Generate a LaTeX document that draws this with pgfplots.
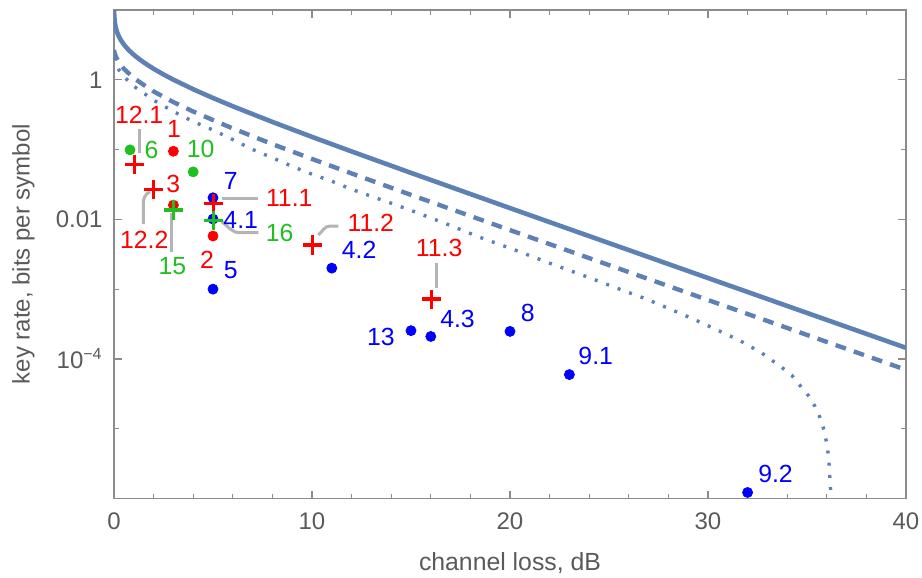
\documentclass[border=0pt]{standalone}
\usepackage{pgfplots}
\pgfplotsset{compat=1.18}
\usepackage{fontspec}
\setmainfont{Liberation Sans}
\definecolor{curve}{HTML}{5E81B5}
\definecolor{mred}{HTML}{FF0000}
\definecolor{mgreen}{HTML}{1FBF1F}
\definecolor{mblue}{HTML}{0000FF}
\definecolor{framec}{HTML}{8C8C8C}
\definecolor{labc}{HTML}{5A5A5A}
\definecolor{callc}{HTML}{B4B4B4}
\begin{document}
\begin{tikzpicture}
\useasboundingbox (-57pt,-39.75pt) rectangle (404pt,249.25pt);
\begin{axis}[
  scale only axis, width=396pt, height=244.25pt,
  at={(0,0)}, anchor=south west,
  xmin=0, xmax=40, ymin=1e-6, ymax=10, ymode=log,
  axis line style={framec, line width=0.7pt},
  tick style={framec, line width=0.6pt},
  tick align=inside,
  xtick={0,10,20,30,40},
  minor xtick={2,4,6,8,12,14,16,18,22,24,26,28,32,34,36,38},
  ytick={1e-4,1e-2,1},
  yticklabels={10\textsuperscript{−4},0.01,1},
  minor ytick={1e-5,1e-3,1e-1},
  major tick length=4pt, minor tick length=2.5pt,
  xticklabel style={font=\fontsize{12}{14}\selectfont, text=labc, /pgf/number format/assume math mode=true, anchor=center, inner sep=0pt, yshift=-11.25pt},
  yticklabel style={font=\fontsize{12}{14}\selectfont, text=labc, anchor=east, inner sep=0pt, xshift=-5.5pt},
  xlabel={channel loss, dB},
  ylabel={key rate, bits per symbol},
  xlabel style={font=\fontsize{12.4}{14}\selectfont, text=labc, at={(axis description cs:0.5,-0.132)}, anchor=center},
  ylabel style={font=\fontsize{12}{14}\selectfont, text=labc, at={(axis description cs:-0.1144,0.5)}, anchor=center},
]
% solid
\addplot[curve, line width=2.3pt] coordinates {
(0.002,11.08) (0.004,10.08) (0.01,8.76) (0.02,7.766) (0.03,7.183) (0.045,6.600) (0.06,6.187) (0.1,5.457) (0.15,4.880) (0.2,4.474) (0.25,4.160) (0.35,3.691) (0.5,3.201) (0.6,2.954) (0.75,2.656) (1,2.2815) (1.25,1.9994) (1.5,1.7757) (2,1.4381) (2.5,1.19212) (3,1.00343) (4,0.73243) (5,0.5484) (6,0.41735) (8,0.24898) (10,0.152) (12,0.094027) (15,0.04636) (20,0.0145) (25,0.0045694) (30,0.0014434) (35,4.563e-4) (40,1.44277e-4)
};
% dashed
\addplot[curve, line width=2.2pt, dash pattern=on 5.4pt off 4.2pt] coordinates {
(0,2.679) (0.005,2.611) (0.02,2.4893) (0.05,2.326) (0.1,2.1353) (0.25,1.7775) (0.5,1.4351) (1,1.0574) (1.5,0.845) (2,0.6806) (3,0.4789) (4,0.3510) (5,0.265) (6,0.2010) (8,0.1197) (10,0.07342) (12,0.04549) (15,0.02242) (20,7.015e-3) (25,2.210e-3) (30,6.99e-4) (35,2.207e-4) (40,6.98e-5)
};
% dotted
\addplot[curve, line width=1.7pt, dash pattern=on 1.5pt off 4.6pt] coordinates {
(0,2.09) (0.005,2.03) (0.02,1.94) (0.05,1.81) (0.1,1.66) (0.25,1.38) (0.5,1.11) (1,0.81) (1.5,0.645) (2,0.51) (3,0.352) (4,0.252) (5,0.191) (6,0.139) (7,0.1004) (8,0.0763) (9,0.0574) (10,0.0443) (11,0.0352) (12,0.0270) (13,0.0214) (14,0.0170) (15,0.01343) (16.72,8.77e-3) (18.48,5.53e-3) (20.25,3.64e-3) (22.1,2.30e-3) (23.95,1.48e-3) (25.72,9.55e-4) (26.9,7.20e-4) (28.08,5.18e-4) (29.26,3.73e-4) (30.44,2.62e-4) (31.62,1.826e-4) (32.71,1.218e-4) (33.72,7.59e-5) (34.23,5.83e-5) (34.65,4.155e-5) (35.07,2.99e-5) (35.4,2.1e-5) (35.66,1.436e-5) (35.86,9.55e-6) (35.99,6.31e-6) (36.08,4.155e-6) (36.13,2.77e-6) (36.16,1.84e-6) (36.2,1.218e-6) (36.22,8.3e-7)
};
% callouts
\draw[callc, line width=1.5pt] (axis cs:1.31,0.1995) -- (axis cs:1.31,0.0906);
\draw[callc, line width=1.5pt] (axis cs:1.82,0.0248) to[out=200,in=90] (axis cs:1.48,0.0165) -- (axis cs:1.48,0.00857);
\draw[callc, line width=1.5pt] (axis cs:2.91,0.0122) -- (axis cs:2.91,0.00345);
\draw[callc, line width=1.5pt] (axis cs:5.44,0.01995) -- (axis cs:7.29,0.01995);
\draw[callc, line width=1.5pt] (axis cs:5.44,0.00924) to[out=-35,in=180] (axis cs:6.36,0.00644) -- (axis cs:7.29,0.00644);
\draw[callc, line width=1.5pt] (axis cs:10.32,0.00597) to[out=40,in=180] (axis cs:10.91,0.00802) -- (axis cs:11.33,0.00802);
\draw[callc, line width=1.5pt] (axis cs:16.30,0.00235) -- (axis cs:16.30,0.00103);
% dots
\addplot[only marks, mark=*, mark size=2.5pt, mblue, mark options={draw=none, fill=mblue}] coordinates {
(5,0.0204) (5,0.0101) (5,0.001) (11,0.002) (15,2.54e-4) (16,2.1e-4) (20,2.48e-4) (23,5.97e-5) (32,1.22e-6)
};
\addplot[only marks, mark=*, mark size=2.5pt, mred, mark options={draw=none, fill=mred}] coordinates {
(3,0.0946) (3,0.016) (5,0.00577)
};
\addplot[only marks, mark=*, mark size=2.5pt, mgreen, mark options={draw=none, fill=mgreen}] coordinates {
(0.81,0.099) (4,0.0479)
};
\addplot[only marks, mark=+, mark size=4.8pt, mred, line width=1.7pt] coordinates {
(1.03,0.061) (1.98,0.0268) (5.02,0.0169) (10.03,0.0043) (16.05,7.2e-4)
};
\addplot[only marks, mark=+, mark size=4.8pt, mgreen, line width=1.7pt] coordinates {
(3,0.0136) (5.02,0.00955)
};
% labels
\tikzset{lab/.style={font=\fontsize{12.4}{14}\selectfont, inner sep=0pt, anchor=center}}
\node[lab, text=mred] at (axis cs:1.27,0.312) {12.1};
\node[lab, text=mred] at (axis cs:3.03,0.1995) {1};
\node[lab, text=mgreen] at (axis cs:1.90,0.0977) {6};
\node[lab, text=mgreen] at (axis cs:4.38,0.1026) {10};
\node[lab, text=mred] at (axis cs:2.99,0.0322) {3};
\node[lab, text=mblue] at (axis cs:5.90,0.0355) {7};
\node[lab, text=mred] at (axis cs:8.85,0.01995) {11.1};
\node[lab, text=mblue] at (axis cs:6.40,0.00977) {4.1};
\node[lab, text=mgreen] at (axis cs:8.37,0.00648) {16};
\node[lab, text=mred] at (axis cs:1.53,0.00511) {12.2};
\node[lab, text=mred] at (axis cs:4.70,0.00262) {2};
\node[lab, text=mgreen] at (axis cs:2.95,0.00217) {15};
\node[lab, text=mblue] at (axis cs:5.90,0.00189) {5};
\node[lab, text=mred] at (axis cs:12.97,0.00877) {11.2};
\node[lab, text=mblue] at (axis cs:12.38,0.00364) {4.2};
\node[lab, text=mred] at (axis cs:16.42,0.00385) {11.3};
\node[lab, text=mblue] at (axis cs:13.48,2.05e-4) {13};
\node[lab, text=mblue] at (axis cs:17.35,3.74e-4) {4.3};
\node[lab, text=mblue] at (axis cs:20.9,4.54e-4) {8};
\node[lab, text=mblue] at (axis cs:24.33,1.12e-4) {9.1};
\node[lab, text=mblue] at (axis cs:33.41,2.22e-6) {9.2};
\end{axis}
\end{tikzpicture}
\end{document}
